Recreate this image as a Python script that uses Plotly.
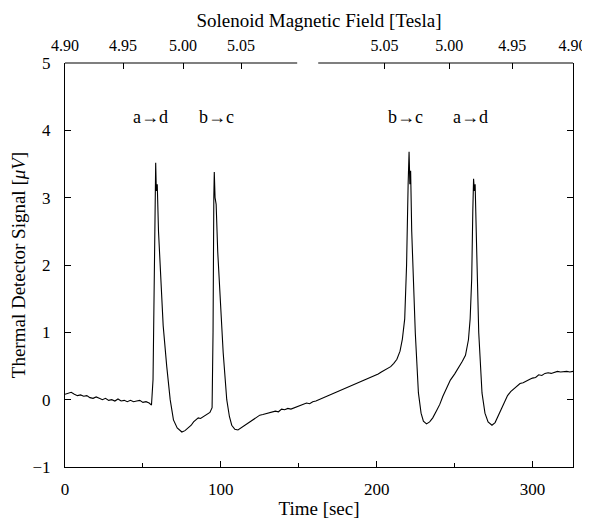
import plotly.graph_objects as go

# Time [sec] and thermal detector signal [µV]
time_s = [0, 2, 4, 6, 8, 10, 12, 14, 16, 18, 20, 22, 24, 26, 28, 30, 32, 34, 36, 38,
          40, 42, 44, 46, 48, 50, 52, 54, 55.5, 56.5, 57.3, 57.8, 58.2, 58.6, 59.2, 60,
          61, 63, 65.3, 67.5, 69.6, 72, 75, 77, 79, 81, 82.5, 84, 85.5, 87, 89, 91, 93,
          94.4, 95, 95.5, 95.8, 96.3, 97, 98, 99.5, 101.5, 103.8, 105.5, 107, 109, 111,
          113, 115, 117, 119, 121, 123, 125, 127, 129, 131, 133, 135, 137, 139, 141, 143,
          145, 147, 149, 151, 153, 155, 157, 159, 161, 163, 165, 167, 169, 171, 173, 175,
          177, 179, 181, 183, 185, 187, 189, 191, 193, 195, 197, 199, 201, 203, 205, 207,
          209, 211, 213, 215, 216.5, 218, 219.2, 220.2, 220.8, 221.3, 221.8, 222.5, 223.5,
          224.8, 226.8, 228.5, 230, 232, 234, 236, 238.5, 240.5, 242.5, 245, 247.3, 250,
          252.5, 255, 257, 258.9, 260, 261, 261.7, 262.2, 262.7, 263.2, 264, 265.5, 267.6,
          269.5, 271.5, 274, 276, 278, 280, 282, 284, 286, 288, 290, 292, 294, 296, 298,
          300, 302, 304, 306, 308, 310, 312, 314, 316, 318, 320, 322, 324, 326]
signal_uV = [0.08, 0.10, 0.11, 0.08, 0.06, 0.07, 0.05, 0.06, 0.03, 0.02, 0.04, 0.02, 0.0,
             0.02, -0.01, 0.0, -0.02, 0.01, -0.02, -0.01, -0.03, -0.01, -0.03, -0.02,
             -0.01, -0.04, -0.03, -0.05, -0.08, 0.3, 1.8, 3.0, 3.52, 3.1, 3.2, 2.5,
             1.98, 1.1, 0.49, 0.0, -0.3, -0.42, -0.48, -0.46, -0.42, -0.38, -0.33, -0.30,
             -0.27, -0.28, -0.25, -0.23, -0.19, -0.12, 1.0, 3.0, 3.38, 3.0, 2.9, 2.2,
             1.48, 0.7, 0.0, -0.25, -0.38, -0.44, -0.45, -0.42, -0.38, -0.36, -0.32,
             -0.30, -0.27, -0.23, -0.22, -0.21, -0.20, -0.19, -0.17, -0.18, -0.14, -0.15,
             -0.13, -0.14, -0.12, -0.10, -0.09, -0.07, -0.05, -0.06, -0.03, -0.02, 0.0,
             0.02, 0.03, 0.05, 0.08, 0.10, 0.11, 0.14, 0.15, 0.18, 0.20, 0.22, 0.23,
             0.26, 0.28, 0.30, 0.31, 0.34, 0.36, 0.38, 0.41, 0.44, 0.46, 0.49, 0.54,
             0.60, 0.72, 0.9, 1.2, 2.0, 3.2, 3.68, 3.2, 3.4, 2.5, 1.7, 0.99, 0.1, -0.2,
             -0.32, -0.36, -0.33, -0.27, -0.16, -0.07, 0.05, 0.18, 0.29, 0.38, 0.47,
             0.57, 0.66, 0.89, 1.2, 1.8, 2.8, 3.28, 3.1, 3.2, 2.4, 1.0, 0.1, -0.2,
             -0.33, -0.38, -0.34, -0.24, -0.12, -0.02, 0.06, 0.12, 0.16, 0.20, 0.24,
             0.25, 0.28, 0.30, 0.32, 0.33, 0.37, 0.36, 0.39, 0.40, 0.39, 0.41, 0.42,
             0.41, 0.42, 0.42, 0.41, 0.42]

# Top axis: solenoid field labels and their time positions [sec]
field_tick_times = [0, 37.3, 75.8, 113, 205, 246.6, 287, 325.6]
field_tick_labels = ["4.90", "4.95", "5.00", "5.05", "5.05", "5.00", "4.95", "4.90"]
field_axis_segments = [(0, 149), (162.5, 326)]

# Transition labels
trans_labels = ["a\u2192d", "b\u2192c", "b\u2192c", "a\u2192d"]
trans_times = [54.6, 97.4, 218.4, 260]
trans_level = 4.2

x_range = [0, 326]
y_range = [-1, 5]

FONT = "Liberation Serif, DejaVu Serif, serif"

fig = go.Figure()
fig.add_trace(go.Scatter(x=time_s, y=signal_uV, mode="lines",
                         line=dict(color="black", width=1.1),
                         showlegend=False, hoverinfo="skip"))
# invisible trace to activate top axis
fig.add_trace(go.Scatter(x=[x_range[0]], y=[y_range[0]], xaxis="x2", mode="markers",
                         marker=dict(opacity=0), showlegend=False, hoverinfo="skip"))

for lab, t in zip(trans_labels, trans_times):
    fig.add_annotation(x=t, y=trans_level, text=lab, showarrow=False,
                       font=dict(family=FONT, size=18, color="black"))

for a, b in field_axis_segments:
    fig.add_shape(type="line", xref="x", yref="paper", x0=a, x1=b, y0=1, y1=1,
                  line=dict(color="black", width=1.2))

fig.update_layout(
    width=582, height=513,
    margin=dict(l=57, r=17, t=55, b=54),
    paper_bgcolor="white", plot_bgcolor="white",
    font=dict(family=FONT, size=17, color="black"),
    xaxis=dict(range=x_range, showgrid=False, zeroline=False, automargin=False,
               showline=True, linecolor="black", linewidth=1.2,
               ticks="inside", ticklen=6, tickcolor="black", ticklabelstandoff=6,
               tickvals=[0, 100, 200, 300], ticktext=["0", "100", "200", "300"],
               minor=dict(tickvals=[50, 150, 250], ticks="inside", ticklen=4,
                          tickcolor="black"),
               title=dict(text="Time [sec]", font=dict(size=19), standoff=4)),
    xaxis2=dict(range=x_range, overlaying="x", side="top", showgrid=False,
                zeroline=False, showline=False, automargin=False,
                ticks="inside", ticklen=6, tickcolor="black", ticklabelstandoff=8,
                tickfont=dict(size=16),
                tickvals=field_tick_times, ticktext=field_tick_labels,
                title=dict(text="Solenoid Magnetic Field [Tesla]", font=dict(size=19),
                           standoff=4)),
    yaxis=dict(range=y_range, showgrid=False, zeroline=False, automargin=False,
               showline=True, linecolor="black", linewidth=1.2, mirror="ticks",
               ticks="inside", ticklen=6, tickcolor="black", ticklabelstandoff=10,
               tickvals=[-1, 0, 1, 2, 3, 4, 5],
               ticktext=["\u22121", "0", "1", "2", "3", "4", "5"],
               title=dict(text="Thermal Detector Signal [<i>\u03bcV</i>]",
                          font=dict(size=19), standoff=6)),
)

fig.write_html("out.html")
